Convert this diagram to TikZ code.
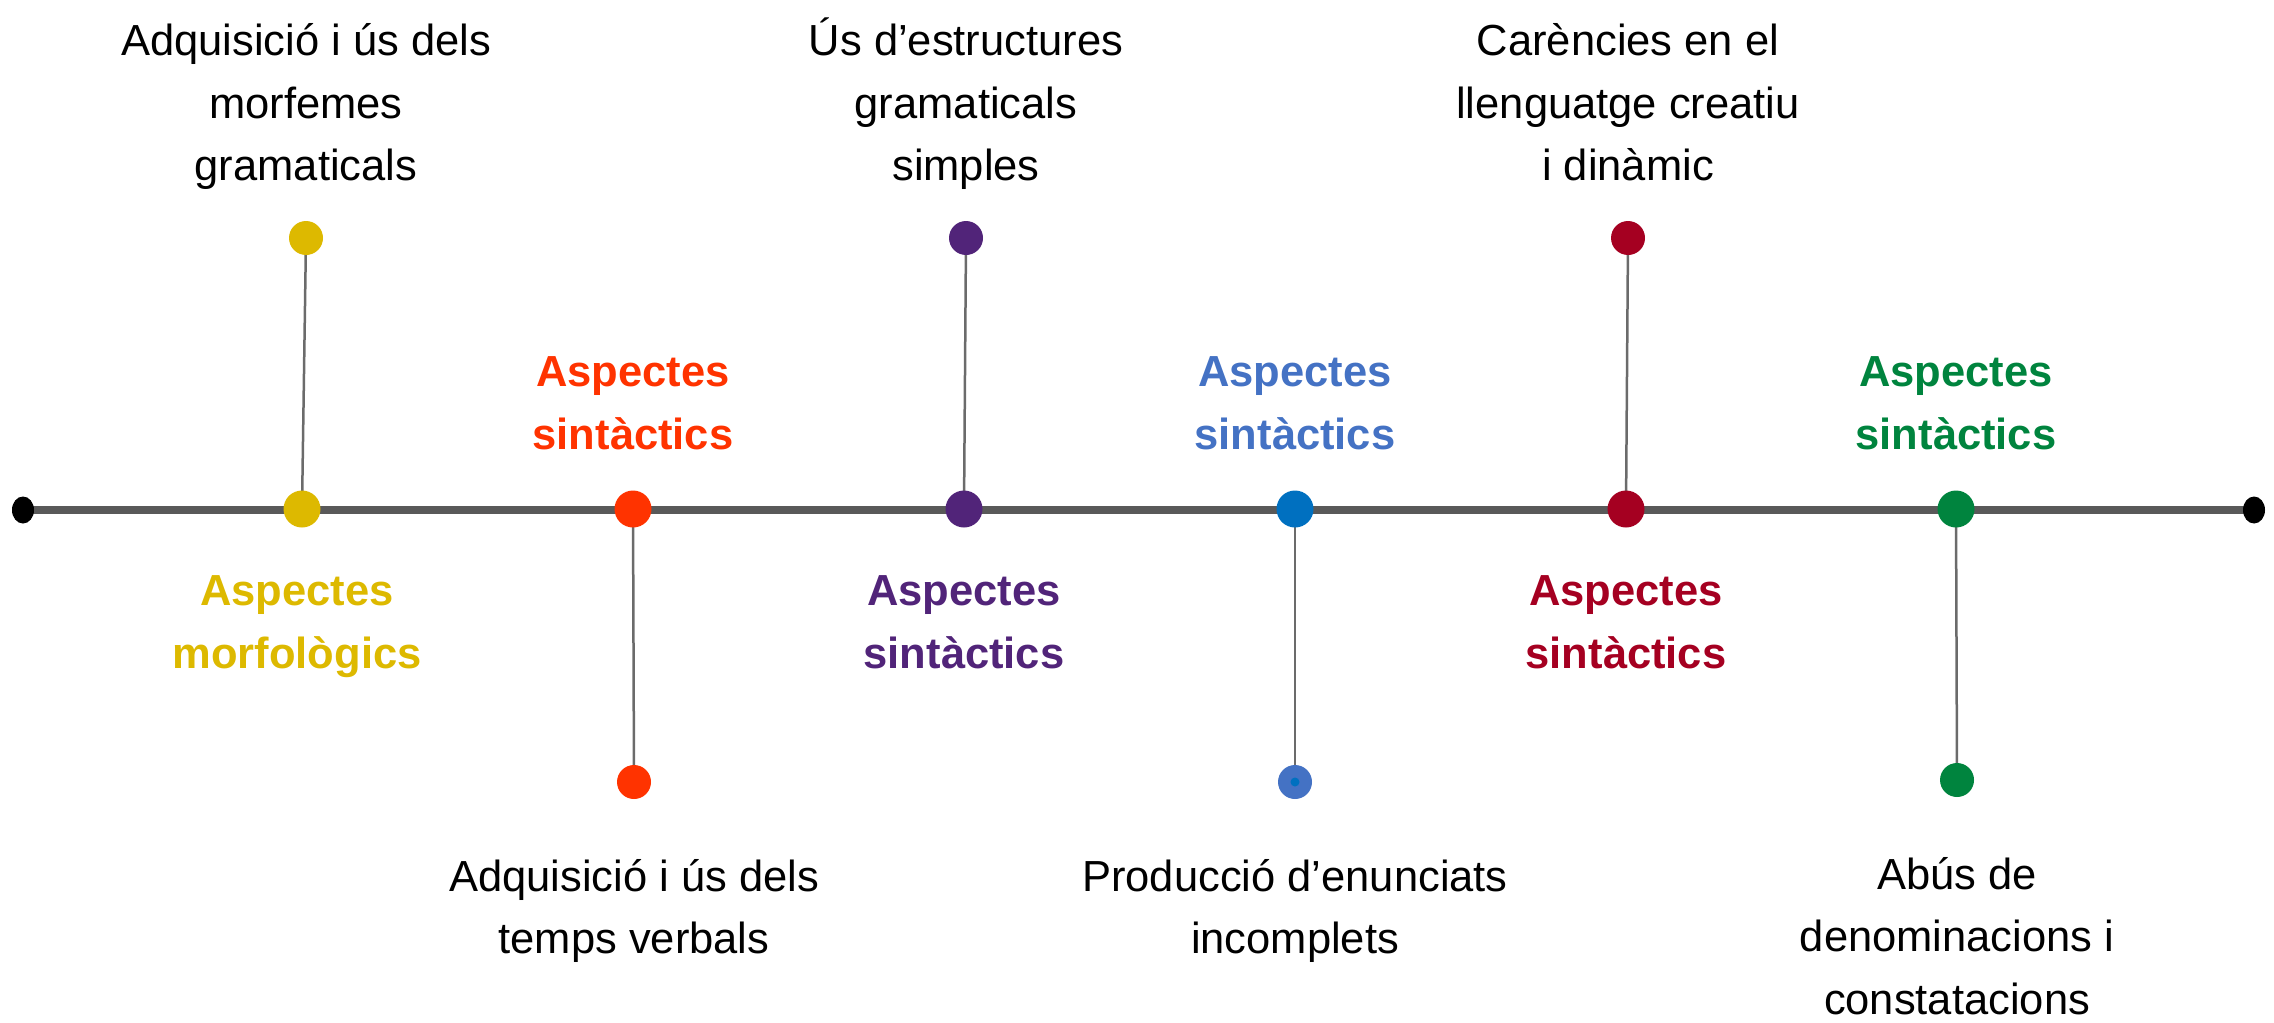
\documentclass[tikz,border=0pt]{standalone}
\usepackage{fontspec}
\setmainfont{Liberation Sans}
\usepackage{tikz}
\usetikzlibrary{positioning,shapes.geometric,backgrounds}
\definecolor{gold}{HTML}{DDB900}
\definecolor{flame}{HTML}{FF3300}
\definecolor{plum}{HTML}{512479}
\definecolor{ocean}{HTML}{0070C0}
\definecolor{softblue}{HTML}{4472C4}
\definecolor{wine}{HTML}{A50021}
\definecolor{forest}{HTML}{00843E}
\definecolor{axisgray}{HTML}{595959}
\definecolor{stemgray}{HTML}{6B6B6B}
\newcommand{\lblfont}{\fontsize{43.5}{62.5}\selectfont}

\begin{document}
\begin{tikzpicture}[x=1pt,y=-1pt,
  bigdot/.style={circle,inner sep=0pt,minimum size=37pt},
  smalldot/.style={circle,inner sep=0pt,minimum size=34pt},
  enddot/.style={ellipse,fill=black,inner sep=0pt,minimum width=22pt,minimum height=27pt},
  note/.style={align=center,font=\lblfont,inner sep=0pt},
  topic/.style={align=center,font=\lblfont\bfseries,inner sep=0pt},
  stem/.style={stemgray,line width=2.5pt}]
  \useasboundingbox (0,0) rectangle (2274,1022);

  % the time line and its dots
  \node[enddot] (e0) at (23,510) {};
  \node[enddot] (e1) at (2254,510) {};
  \node[bigdot,fill=gold]   (m1) at (302,509) {};
  \node[bigdot,fill=flame]  (m2) at (633,509) {};
  \node[bigdot,fill=plum]   (m3) at (964,509) {};
  \node[bigdot,fill=ocean]  (m4) at (1295,509) {};
  \node[bigdot,fill=wine]   (m5) at (1626,509) {};
  \node[bigdot,fill=forest] (m6) at (1956,509) {};

  % outer dots
  \node[smalldot,fill=gold]     (t1) at (306,238) {};
  \node[smalldot,fill=flame]    (b2) at (634,782) {};
  \node[smalldot,fill=plum]     (t3) at (966,238) {};
  \node[smalldot,fill=softblue] (b4) at (1295,782) {};
  \node[circle,inner sep=0pt,minimum size=9pt,fill=ocean] (b4c) at (b4.center) {};
  \node[smalldot,fill=wine]     (t5) at (1628,238) {};
  \node[smalldot,fill=forest]   (b6) at (1957,780) {};

  \begin{pgfonlayer}{background}
    \draw[axisgray,line width=7.5pt] (e0.center) -- (e1.center);
    \draw[stem] (t1.center) -- (m1.center);
    \draw[stem] (m2.center) -- (b2.center);
    \draw[stem] (t3.center) -- (m3.center);
    \draw[stem] (m4.center) -- (b4.center);
    \draw[stem] (t5.center) -- (m5.center);
    \draw[stem] (m6.center) -- (b6.center);
  \end{pgfonlayer}

  % labels
  \node[note,above=21pt of t1] (n1) {\strut Adquisició i ús dels\\\strut morfemes\\\strut gramaticals};
  \node[topic,text=gold,below=34pt of m1,xshift=-5pt] (a1) {\strut Aspectes\\\strut morfològics};
  \node[topic,text=flame,above=22pt of m2] (a2) {\strut Aspectes\\\strut sintàctics};
  \node[note,below=48pt of b2] (n2) {\strut Adquisició i ús dels\\\strut temps verbals};
  \node[note,above=21pt of t3] (n3) {\strut Ús d’estructures\\\strut gramaticals\\\strut simples};
  \node[topic,text=plum,below=34pt of m3] (a3) {\strut Aspectes\\\strut sintàctics};
  \node[topic,text=softblue,above=22pt of m4] (a4) {\strut Aspectes\\\strut sintàctics};
  \node[note,below=48pt of b4] (n4) {\strut Producció d’enunciats\\\strut incomplets};
  \node[note,above=21pt of t5] (n5) {\strut Carències en el\\\strut llenguatge creatiu\\\strut i dinàmic};
  \node[topic,text=wine,below=34pt of m5] (a5) {\strut Aspectes\\\strut sintàctics};
  \node[topic,text=forest,above=22pt of m6] (a6) {\strut Aspectes\\\strut sintàctics};
  \node[note,below=48pt of b6] (n6) {\strut Abús de\\\strut denominacions i\\\strut constatacions};
\end{tikzpicture}
\end{document}
